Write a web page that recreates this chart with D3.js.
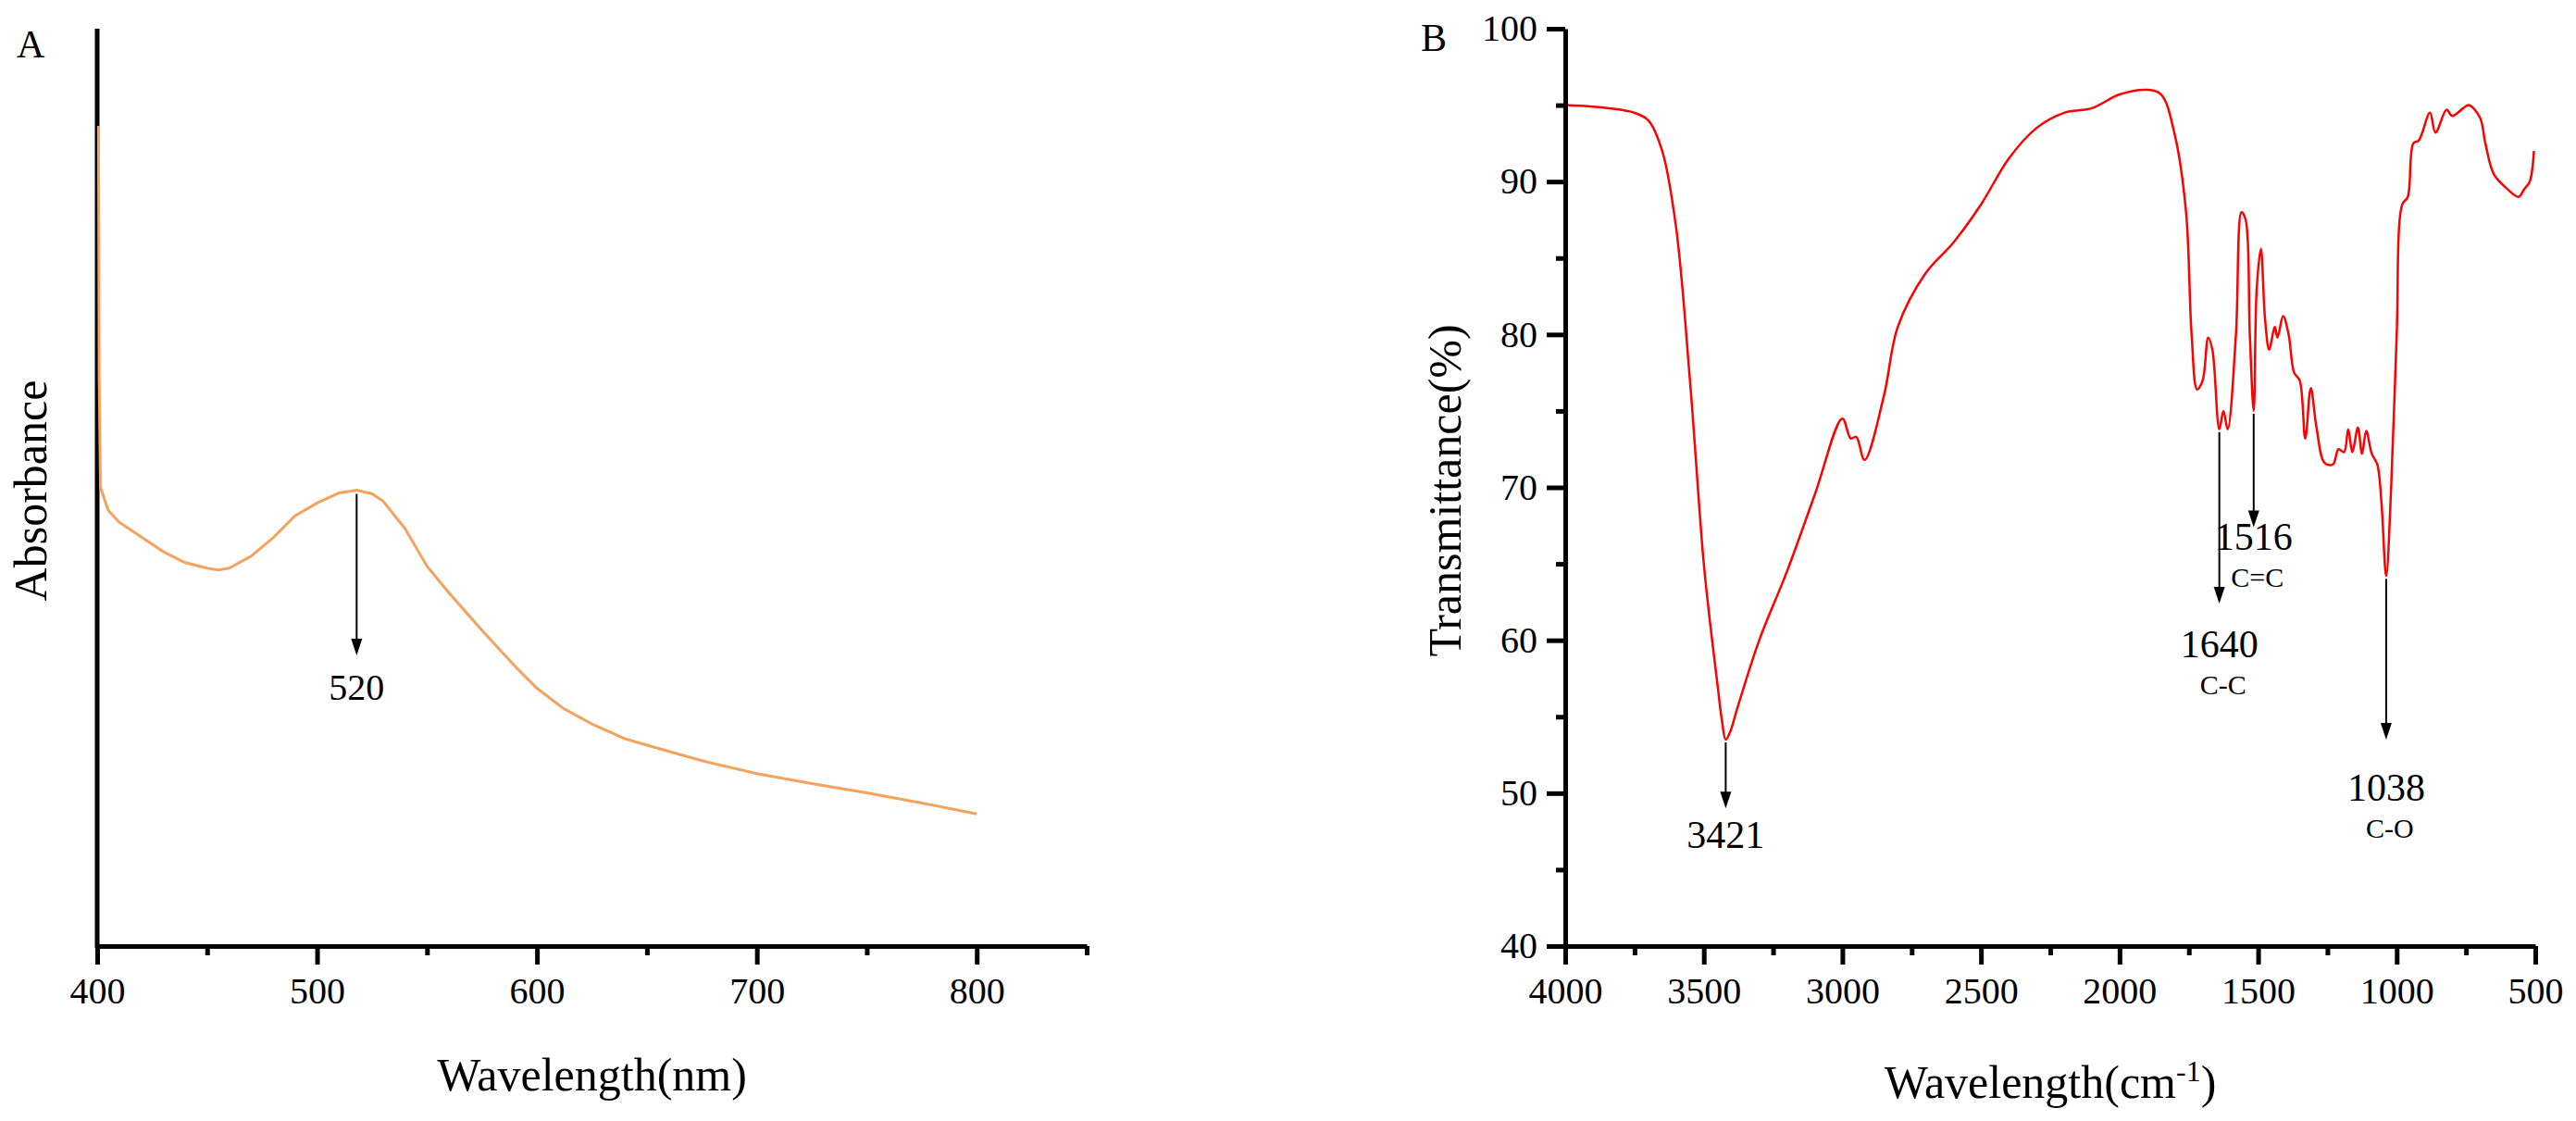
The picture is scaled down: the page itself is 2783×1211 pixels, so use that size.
<!DOCTYPE html>
<html><head><meta charset="utf-8">
<script src="https://cdn.jsdelivr.net/npm/d3@7"></script>
<style>body{margin:0;background:#fff}text{font-family:"Liberation Serif","Times New Roman",serif}</style>
</head><body><svg id="c" width="2783" height="1211"></svg>
<script>
// Panel A: UV-Vis (arbitrary absorbance units)
const uvWave = [400.6,400.9,401.5,405,410,420,430,440,450,455,460,470,480,490,500,510,518,525,530,540,550,560,575,590,600,612,625,640,650,675,700,725,750,775,800];
const uvAbs  = [0.894,0.62,0.50,0.475,0.462,0.446,0.43,0.418,0.412,0.410,0.412,0.425,0.445,0.469,0.483,0.494,0.497,0.493,0.485,0.455,0.414,0.385,0.344,0.305,0.281,0.259,0.242,0.226,0.219,0.202,0.188,0.177,0.167,0.156,0.144];
const uvTicks = [400,500,600,700,800];
// Panel B: FTIR
const irWave = [4000,3900,3800,3750,3700,3650,3600,3550,3500,3470,3450,3435,3421,3405,3380,3300,3200,3100,3000,2970,2950,2920,2850,2800,2700,2600,2500,2400,2300,2200,2100,2000,1900,1850,1800,1760,1740,1720,1700,1680,1665,1640,1625,1610,1580,1560,1545,1530,1516,1505,1490,1475,1460,1440,1430,1410,1390,1370,1350,1330,1310,1290,1260,1230,1210,1190,1175,1160,1140,1125,1110,1090,1070,1055,1038,1020,1000,980,960,940,920,880,860,820,800,760,740,700,680,650,600,560,540,520,505];
const irTrans= [95,94.9,94.7,94.5,94,92,87,77,65,60,57,54.8,53.5,54,55.5,60,64.5,69.5,74.5,73.2,73.3,71.8,76,80.5,84,86,88.5,91.5,93.5,94.5,94.8,95.7,96,95.7,93,88,80,76.4,77,79.8,79,73.8,75,73.8,80,88,87.5,80,75,83,85.6,81,79,80.5,79.8,81.2,80,77.5,77,73.2,76.5,74,71.6,71.5,72.5,72.3,73.8,72.3,73.9,72.2,73.7,72.2,71.5,69,64.2,70,80,88.5,89,92.5,92.7,94.5,93.2,94.7,94.3,94.8,95,94.2,92.5,90.5,89.5,89,89.5,90,92];
const irTicks = [4000,3500,3000,2500,2000,1500,1000,500];
const irYTicks = [40,50,60,70,80,90,100];
const irPeaks = [{w:3421,from:53.5,to:49,lab:"3421",lab2:"",ly:46.4},
                 {w:1640,from:73.8,to:62.4,lab:"1640",lab2:"C-C",ly:58.9},
                 {w:1516,from:75,to:67.4,lab:"1516",lab2:"C=C",ly:65.9},
                 {w:1038,from:64.2,to:53.5,lab:"1038",lab2:"C-O",ly:49.5}];

const svg = d3.select("#c");
function arrow(g,x,y1,y2){
  g.append("line").attr("x1",x).attr("x2",x).attr("y1",y1).attr("y2",y2-14).attr("stroke","#000").attr("stroke-width",2);
  g.append("path").attr("d",`M${x-6},${y2-18}L${x+6},${y2-18}L${x},${y2}Z`).attr("fill","#000");
}
function styleAxis(g){
  g.selectAll(".domain").attr("stroke-width",5);
  g.selectAll(".tick line").attr("stroke-width",5);
  g.selectAll("text").attr("font-size",40).style("font-family","Liberation Serif");
}
// ---- Panel A
const xA = d3.scaleLinear().domain([400,850]).range([105,1174]);
const yA = d3.scaleLinear().domain([0,1]).range([1022,31]);
const gA = svg.append("g");
gA.append("line").attr("x1",105).attr("x2",105).attr("y1",31).attr("y2",1024).attr("stroke","#000").attr("stroke-width",5);
gA.append("path").datum(uvWave.map((w,i)=>[w,uvAbs[i]]))
  .attr("fill","none").attr("stroke","#f4a25e").attr("stroke-width",3)
  .attr("d",d3.line().x(d=>xA(d[0])).y(d=>yA(d[1])));
const axA = gA.append("g").attr("transform","translate(0,1022)")
  .call(d3.axisBottom(xA).tickValues(d3.range(400,851,50)).tickSize(20).tickPadding(14).tickSizeOuter(0)
    .tickFormat(d=>uvTicks.includes(d)?d:""));
styleAxis(axA);
axA.selectAll(".tick line").attr("y2",d=>d%100===0?20:10);
arrow(gA,xA(518),yA(0.497)+4,708);
gA.append("text").attr("x",xA(518)).attr("y",756).attr("text-anchor","middle").attr("font-size",40).text("520");
gA.append("text").attr("x",xA(625)).attr("y",1178).attr("text-anchor","middle").attr("font-size",50).text("Wavelength(nm)");
gA.append("text").attr("transform","translate(50,530) rotate(-90)").attr("text-anchor","middle").attr("font-size",50).text("Absorbance");
gA.append("text").attr("x",18).attr("y",62).attr("font-size",42).text("A");
// ---- Panel B
const xB = d3.scaleLinear().domain([4000,500]).range([1691,2739]);
const yB = d3.scaleLinear().domain([40,100]).range([1022,31]);
const gB = svg.append("g");
gB.append("path").datum(irWave.map((w,i)=>[w,irTrans[i]]))
  .attr("fill","none").attr("stroke","#ff0000").attr("stroke-width",2.5)
  .attr("d",d3.line().curve(d3.curveCatmullRom).x(d=>xB(d[0])).y(d=>yB(d[1])));
const axBx = gB.append("g").attr("transform","translate(0,1022)")
  .call(d3.axisBottom(xB).tickValues(d3.range(4000,499,-250)).tickSize(20).tickPadding(14).tickSizeOuter(0)
    .tickFormat(d=>irTicks.includes(d)?d:""));
styleAxis(axBx);
axBx.selectAll(".tick line").attr("y2",d=>d%500===0?20:10);
const axBy = gB.append("g").attr("transform","translate(1691,0)")
  .call(d3.axisLeft(yB).tickValues(d3.range(40,101,5)).tickSize(20).tickPadding(10).tickSizeOuter(0)
    .tickFormat(d=>irYTicks.includes(d)?d:""));
styleAxis(axBy);
axBy.selectAll(".tick line").attr("x2",d=>d%10===0?-20:-10);
irPeaks.forEach(p=>{
  arrow(gB,xB(p.w),yB(p.from)+3,yB(p.to));
  gB.append("text").attr("x",xB(p.w)).attr("y",yB(p.ly)).attr("text-anchor","middle").attr("font-size",42).text(p.lab);
  if(p.lab2) gB.append("text").attr("x",xB(p.w)+4).attr("y",yB(p.ly)+40).attr("text-anchor","middle").attr("font-size",30).text(p.lab2);
});
const tB = gB.append("text").attr("x",xB(2250)).attr("y",1186).attr("text-anchor","middle").attr("font-size",50);
tB.append("tspan").text("Wavelength(cm");
tB.append("tspan").attr("dy",-18).attr("font-size",32).text("-1");
tB.append("tspan").attr("dy",18).text(")");
gB.append("text").attr("transform","translate(1578,530) rotate(-90)").attr("text-anchor","middle").attr("font-size",50).text("Transmittance(%)");
gB.append("text").attr("x",1535).attr("y",55).attr("font-size",42).text("B");
</script></body></html>
